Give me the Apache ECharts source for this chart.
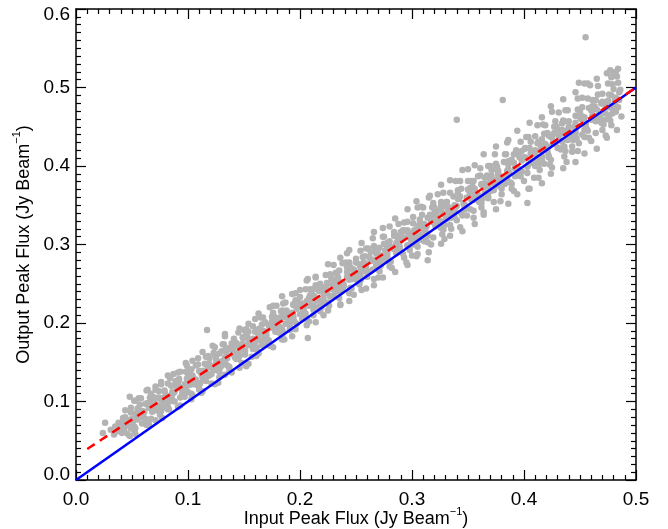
<!DOCTYPE html>
<html>
<head>
<meta charset="utf-8">
<script src="https://cdn.jsdelivr.net/npm/echarts@6/dist/echarts.min.js"></script>
<style>html,body{margin:0;padding:0;background:#fff}#c{width:668px;height:529px}</style>
</head>
<body>
<div id="c"></div>
<script>
// Axis ticks
const xTicks = [0.0, 0.1, 0.2, 0.3, 0.4, 0.5];
const yTicks = [0.0, 0.1, 0.2, 0.3, 0.4, 0.5, 0.6];

// One-to-one line (blue) and fitted line (red dashed)
const oneToOneX = [0.0, 0.5];
const oneToOneY = [0.0, 0.5];
const fitX = [0.01, 0.5];
const fitY = [0.0394, 0.5];

// Scatter: [input peak flux, output peak flux]
const fluxPoints = [
[0.024,0.060],[0.026,0.073],[0.031,0.064],[0.034,0.058],[0.035,0.068],[0.037,0.062],[0.038,0.073],[0.039,0.066],
[0.041,0.060],[0.041,0.071],[0.042,0.079],[0.043,0.065],[0.044,0.069],
[0.045,0.075],[0.046,0.059],[0.044,0.080],[0.047,0.070],[0.044,0.089],
[0.049,0.066],[0.046,0.076],[0.048,0.056],[0.049,0.086],
[0.050,0.072],[0.053,0.101],[0.050,0.078],[0.052,0.068],[0.049,0.092],[0.051,0.075],
[0.055,0.088],[0.053,0.066],[0.056,0.085],[0.053,0.059],[0.055,0.091],
[0.055,0.077],[0.057,0.096],[0.058,0.083],[0.056,0.104],[0.059,0.072],
[0.059,0.088],[0.061,0.078],[0.058,0.104],[0.060,0.082],
[0.064,0.098],[0.062,0.072],[0.065,0.095],[0.062,0.078],[0.064,0.115],[0.061,0.087],
[0.066,0.105],[0.067,0.078],[0.065,0.092],[0.068,0.100],[0.065,0.071],
[0.070,0.098],[0.067,0.110],[0.069,0.088],[0.070,0.094],[0.068,0.106],
[0.074,0.088],[0.071,0.119],[0.073,0.095],[0.070,0.105],
[0.075,0.083],[0.076,0.102],[0.074,0.113],[0.077,0.092],[0.074,0.105],[0.076,0.088],
[0.076,0.122],[0.078,0.097],[0.079,0.113],[0.077,0.079],[0.080,0.105],
[0.080,0.109],[0.082,0.093],[0.079,0.114],[0.081,0.104],[0.082,0.123],
[0.083,0.100],[0.086,0.110],[0.083,0.090],[0.085,0.120],
[0.085,0.106],[0.087,0.135],[0.088,0.112],[0.086,0.102],[0.089,0.126],[0.086,0.109],
[0.091,0.122],[0.088,0.100],[0.090,0.119],[0.091,0.093],[0.089,0.125],
[0.095,0.110],[0.092,0.129],[0.094,0.116],[0.091,0.137],[0.093,0.105],
[0.097,0.122],[0.095,0.112],[0.098,0.138],[0.095,0.116],
[0.100,0.132],[0.097,0.106],[0.099,0.129],[0.100,0.112],[0.098,0.149],[0.101,0.121],
[0.101,0.140],[0.103,0.110],[0.100,0.126],[0.102,0.134],[0.103,0.103],
[0.104,0.133],[0.107,0.146],[0.104,0.122],[0.106,0.128],[0.103,0.141],
[0.108,0.121],[0.109,0.155],[0.107,0.128],[0.110,0.139],
[0.110,0.115],[0.112,0.135],[0.109,0.147],[0.111,0.124],[0.112,0.139],[0.110,0.120],
[0.116,0.157],[0.113,0.131],[0.115,0.148],[0.112,0.111],[0.114,0.139],
[0.118,0.144],[0.116,0.126],[0.119,0.148],[0.116,0.138],[0.118,0.158],
[0.118,0.133],[0.120,0.144],[0.121,0.123],[0.119,0.155],
[0.125,0.140],[0.122,0.171],[0.124,0.146],[0.121,0.135],[0.123,0.162],[0.124,0.142],
[0.125,0.155],[0.128,0.131],[0.125,0.153],[0.127,0.124],[0.124,0.159],
[0.129,0.144],[0.130,0.164],[0.128,0.150],[0.131,0.173],[0.128,0.138],
[0.133,0.156],[0.130,0.146],[0.132,0.173],[0.133,0.149],
[0.134,0.167],[0.137,0.139],[0.134,0.163],[0.136,0.145],[0.133,0.186],[0.135,0.155],
[0.139,0.174],[0.137,0.144],[0.140,0.160],[0.137,0.168],[0.139,0.137],
[0.139,0.167],[0.141,0.180],[0.142,0.156],[0.140,0.162],[0.143,0.175],
[0.143,0.154],[0.145,0.188],[0.142,0.161],[0.144,0.172],
[0.148,0.149],[0.146,0.169],[0.149,0.181],[0.146,0.158],[0.148,0.173],[0.145,0.154],
[0.150,0.191],[0.151,0.165],[0.149,0.182],[0.152,0.145],[0.149,0.173],
[0.154,0.178],[0.151,0.160],[0.153,0.182],[0.154,0.172],[0.152,0.192],
[0.158,0.167],[0.155,0.178],[0.157,0.157],[0.154,0.189],
[0.159,0.174],[0.160,0.205],[0.158,0.180],[0.161,0.169],[0.158,0.196],[0.160,0.176],
[0.160,0.189],[0.162,0.165],[0.163,0.187],[0.161,0.158],[0.164,0.193],
[0.164,0.178],[0.166,0.198],[0.163,0.184],[0.165,0.207],[0.166,0.172],
[0.167,0.190],[0.170,0.180],[0.167,0.207],[0.169,0.183],
[0.169,0.201],[0.171,0.173],[0.172,0.197],[0.170,0.179],[0.173,0.220],[0.170,0.189],
[0.175,0.208],[0.172,0.178],[0.174,0.194],[0.175,0.202],[0.173,0.171],
[0.179,0.200],[0.176,0.213],[0.178,0.189],[0.175,0.195],[0.177,0.208],
[0.181,0.188],[0.179,0.222],[0.182,0.195],[0.179,0.206],
[0.184,0.183],[0.181,0.203],[0.183,0.215],[0.184,0.192],[0.182,0.207],[0.185,0.188],
[0.185,0.225],[0.187,0.199],[0.184,0.216],[0.186,0.179],[0.187,0.207],
[0.188,0.212],[0.191,0.194],[0.188,0.216],[0.190,0.206],[0.187,0.226],
[0.192,0.201],[0.193,0.212],[0.191,0.191],[0.194,0.223],
[0.194,0.207],[0.196,0.238],[0.193,0.213],[0.195,0.202],[0.196,0.229],[0.194,0.209],
[0.200,0.223],[0.197,0.199],[0.199,0.221],[0.196,0.192],[0.198,0.227],
[0.202,0.211],[0.200,0.233],[0.203,0.218],[0.200,0.242],[0.202,0.205],
[0.202,0.225],[0.204,0.213],[0.205,0.243],[0.203,0.217],
[0.209,0.235],[0.206,0.205],[0.208,0.232],[0.205,0.212],[0.207,0.256],[0.208,0.222],
[0.209,0.243],[0.212,0.210],[0.209,0.227],[0.211,0.236],[0.208,0.202],
[0.213,0.234],[0.214,0.248],[0.212,0.222],[0.215,0.229],[0.212,0.243],
[0.217,0.221],[0.214,0.258],[0.216,0.229],[0.217,0.241],
[0.218,0.215],[0.221,0.237],[0.218,0.250],[0.220,0.226],[0.217,0.241],[0.219,0.220],
[0.223,0.261],[0.221,0.232],[0.224,0.251],[0.221,0.210],[0.223,0.242],
[0.223,0.246],[0.225,0.226],[0.226,0.251],[0.224,0.239],[0.227,0.262],
[0.227,0.234],[0.229,0.245],[0.226,0.222],[0.228,0.257],
[0.232,0.240],[0.230,0.274],[0.233,0.247],[0.230,0.235],[0.232,0.264],[0.229,0.243],
[0.234,0.258],[0.235,0.232],[0.233,0.255],[0.236,0.224],[0.233,0.262],
[0.238,0.245],[0.235,0.267],[0.237,0.252],[0.238,0.276],[0.236,0.239],
[0.242,0.259],[0.239,0.247],[0.241,0.277],[0.238,0.251],
[0.243,0.268],[0.244,0.238],[0.242,0.265],[0.245,0.245],[0.242,0.289],[0.244,0.255],
[0.244,0.277],[0.246,0.244],[0.247,0.261],[0.245,0.270],[0.248,0.236],
[0.248,0.268],[0.250,0.282],[0.247,0.256],[0.249,0.263],[0.250,0.277],
[0.251,0.255],[0.254,0.292],[0.251,0.263],[0.253,0.275],
[0.253,0.249],[0.255,0.271],[0.256,0.284],[0.254,0.260],[0.257,0.275],[0.254,0.254],
[0.259,0.295],[0.256,0.266],[0.258,0.285],[0.259,0.244],[0.257,0.276],
[0.263,0.279],[0.260,0.259],[0.262,0.284],[0.259,0.272],[0.261,0.295],
[0.265,0.268],[0.263,0.279],[0.266,0.256],[0.263,0.291],
[0.268,0.274],[0.265,0.308],[0.267,0.281],[0.268,0.269],[0.266,0.298],[0.269,0.277],
[0.269,0.292],[0.271,0.266],[0.268,0.289],[0.270,0.258],[0.271,0.296],
[0.272,0.279],[0.275,0.301],[0.272,0.286],[0.274,0.310],[0.271,0.273],
[0.276,0.292],[0.277,0.280],[0.275,0.310],[0.278,0.284],
[0.278,0.302],[0.280,0.272],[0.277,0.299],[0.279,0.279],[0.280,0.323],[0.278,0.289],
[0.284,0.311],[0.281,0.278],[0.283,0.295],[0.280,0.304],[0.282,0.270],
[0.286,0.302],[0.284,0.316],[0.287,0.290],[0.284,0.297],[0.286,0.311],
[0.286,0.289],[0.288,0.326],[0.289,0.297],[0.287,0.309],
[0.293,0.283],[0.290,0.305],[0.292,0.318],[0.289,0.294],[0.291,0.309],[0.292,0.288],
[0.293,0.328],[0.296,0.299],[0.293,0.318],[0.295,0.277],[0.292,0.309],
[0.297,0.313],[0.298,0.293],[0.296,0.318],[0.299,0.306],[0.296,0.329],
[0.301,0.300],[0.298,0.314],[0.300,0.286],[0.301,0.327],
[0.302,0.307],[0.305,0.347],[0.302,0.315],[0.304,0.301],[0.301,0.335],[0.303,0.310],
[0.307,0.327],[0.305,0.297],[0.308,0.324],[0.305,0.288],[0.307,0.332],
[0.307,0.312],[0.309,0.338],[0.310,0.319],[0.308,0.348],[0.311,0.304],
[0.311,0.326],[0.313,0.312],[0.310,0.347],[0.312,0.317],
[0.316,0.338],[0.314,0.303],[0.317,0.334],[0.314,0.311],[0.316,0.362],[0.313,0.323],
[0.318,0.347],[0.319,0.309],[0.317,0.329],[0.320,0.340],[0.317,0.300],
[0.322,0.337],[0.319,0.353],[0.321,0.323],[0.322,0.330],[0.320,0.347],
[0.326,0.321],[0.323,0.364],[0.325,0.330],[0.322,0.344],
[0.327,0.313],[0.328,0.339],[0.326,0.354],[0.329,0.325],[0.326,0.343],[0.328,0.319],
[0.328,0.366],[0.330,0.332],[0.331,0.354],[0.329,0.307],[0.332,0.343],
[0.332,0.348],[0.334,0.325],[0.331,0.354],[0.333,0.340],[0.334,0.366],
[0.335,0.334],[0.338,0.348],[0.335,0.320],[0.337,0.361],
[0.337,0.341],[0.339,0.381],[0.340,0.349],[0.338,0.335],[0.341,0.369],[0.338,0.344],
[0.343,0.361],[0.340,0.331],[0.342,0.358],[0.343,0.322],[0.341,0.366],
[0.347,0.345],[0.344,0.371],[0.346,0.352],[0.343,0.381],[0.345,0.337],
[0.349,0.360],[0.347,0.346],[0.350,0.381],[0.347,0.351],
[0.352,0.372],[0.349,0.337],[0.351,0.368],[0.352,0.345],[0.350,0.396],[0.353,0.357],
[0.353,0.381],[0.355,0.343],[0.352,0.363],[0.354,0.374],[0.355,0.334],
[0.356,0.371],[0.359,0.387],[0.356,0.357],[0.358,0.364],[0.355,0.381],
[0.360,0.354],[0.361,0.397],[0.359,0.363],[0.362,0.377],
[0.362,0.347],[0.364,0.373],[0.361,0.388],[0.363,0.359],[0.364,0.377],[0.362,0.353],
[0.368,0.400],[0.365,0.366],[0.367,0.388],[0.364,0.341],[0.366,0.377],
[0.370,0.382],[0.368,0.359],[0.371,0.388],[0.368,0.374],[0.370,0.400],
[0.370,0.368],[0.372,0.382],[0.373,0.354],[0.371,0.395],
[0.377,0.375],[0.374,0.415],[0.376,0.383],[0.373,0.369],[0.375,0.403],[0.376,0.378],
[0.377,0.394],[0.380,0.364],[0.377,0.391],[0.379,0.355],[0.376,0.399],
[0.381,0.379],[0.382,0.405],[0.380,0.386],[0.383,0.415],[0.380,0.371],
[0.385,0.394],[0.382,0.380],[0.384,0.415],[0.385,0.385],
[0.386,0.406],[0.389,0.371],[0.386,0.402],[0.388,0.379],[0.385,0.430],[0.387,0.391],
[0.391,0.415],[0.389,0.377],[0.392,0.397],[0.389,0.408],[0.391,0.368],
[0.391,0.404],[0.393,0.420],[0.394,0.390],[0.392,0.397],[0.395,0.414],
[0.395,0.388],[0.397,0.431],[0.394,0.397],[0.396,0.411],
[0.400,0.381],[0.398,0.407],[0.401,0.422],[0.398,0.393],[0.400,0.411],[0.397,0.387],
[0.402,0.437],[0.403,0.399],[0.401,0.423],[0.404,0.371],[0.401,0.411],
[0.406,0.416],[0.403,0.391],[0.405,0.423],[0.406,0.408],[0.404,0.437],
[0.410,0.400],[0.407,0.416],[0.409,0.385],[0.406,0.431],
[0.411,0.407],[0.412,0.452],[0.410,0.416],[0.413,0.401],[0.410,0.438],[0.412,0.411],
[0.412,0.429],[0.414,0.395],[0.415,0.426],[0.413,0.385],[0.416,0.434],
[0.416,0.412],[0.418,0.441],[0.415,0.420],[0.417,0.453],[0.418,0.403],
[0.419,0.428],[0.422,0.413],[0.419,0.452],[0.421,0.418],
[0.421,0.442],[0.423,0.402],[0.424,0.437],[0.422,0.411],[0.425,0.469],[0.422,0.425],
[0.427,0.450],[0.424,0.408],[0.426,0.430],[0.427,0.442],[0.425,0.398],
[0.431,0.438],[0.428,0.457],[0.430,0.423],[0.427,0.431],[0.429,0.450],
[0.433,0.421],[0.431,0.468],[0.434,0.431],[0.431,0.446],
[0.436,0.412],[0.433,0.441],[0.435,0.458],[0.436,0.425],[0.434,0.446],[0.437,0.419],
[0.437,0.471],[0.439,0.433],[0.436,0.457],[0.438,0.405],[0.439,0.445],
[0.440,0.450],[0.443,0.425],[0.440,0.457],[0.442,0.442],[0.439,0.471],
[0.444,0.433],[0.445,0.449],[0.443,0.418],[0.446,0.464],
[0.446,0.441],[0.448,0.486],[0.445,0.450],[0.447,0.435],[0.448,0.472],[0.446,0.445],
[0.452,0.463],[0.449,0.429],[0.451,0.460],[0.448,0.419],[0.450,0.468],
[0.454,0.446],[0.452,0.475],[0.455,0.454],[0.452,0.487],[0.454,0.437],
[0.454,0.462],[0.456,0.447],[0.457,0.486],[0.455,0.452],
[0.461,0.476],[0.458,0.436],[0.460,0.471],[0.457,0.445],[0.459,0.503],[0.460,0.459],
[0.461,0.484],[0.464,0.442],[0.461,0.464],[0.463,0.476],[0.460,0.432],
[0.465,0.472],[0.466,0.491],[0.464,0.457],[0.467,0.465],[0.464,0.484],
[0.469,0.455],[0.466,0.502],[0.468,0.465],[0.469,0.480],
[0.470,0.446],[0.473,0.475],[0.470,0.492],[0.472,0.459],[0.469,0.480],[0.471,0.453],
[0.475,0.505],[0.473,0.467],[0.476,0.491],[0.473,0.439],[0.475,0.479],
[0.475,0.483],[0.477,0.458],[0.478,0.490],[0.476,0.475],[0.479,0.504],
[0.479,0.467],[0.481,0.483],[0.478,0.452],[0.480,0.498],
[0.484,0.475],[0.482,0.520],[0.485,0.484],[0.482,0.469],[0.484,0.506],[0.481,0.479],
[0.486,0.497],[0.487,0.463],[0.485,0.494]
];

// Isolated points and the upper/lower fringe of the cloud
const fluxOutliers = [
[0.455,0.564],[0.340,0.459],[0.381,0.484],[0.117,0.191],[0.207,0.181],[0.314,0.280],[0.403,0.353],
[0.449,0.506],[0.457,0.505],[0.481,0.518],[0.484,0.524],[0.478,0.513],[0.477,0.522],[0.480,0.516],
[0.099,0.146],[0.048,0.106],[0.076,0.125],[0.084,0.130]
];
const fluxEdge = [
[0.052,0.101],[0.052,0.063],[0.063,0.114],[0.063,0.070],[0.071,0.076],[0.071,0.115],
[0.082,0.133],[0.082,0.090],[0.093,0.095],[0.093,0.138],[0.104,0.152],[0.104,0.108],
[0.113,0.113],[0.113,0.163],[0.124,0.169],[0.124,0.122],[0.133,0.134],[0.133,0.183],
[0.146,0.193],[0.146,0.143],[0.154,0.148],[0.154,0.199],[0.163,0.212],[0.163,0.161],
[0.176,0.169],[0.176,0.222],[0.184,0.234],[0.184,0.179],[0.193,0.183],[0.193,0.237],
[0.206,0.254],[0.206,0.197],[0.214,0.201],[0.214,0.259],[0.225,0.275],[0.225,0.216],
[0.236,0.223],[0.236,0.283],[0.244,0.293],[0.244,0.228],[0.255,0.242],[0.255,0.302],
[0.266,0.316],[0.266,0.248],[0.274,0.258],[0.274,0.321],[0.285,0.333],[0.285,0.265],
[0.296,0.274],[0.296,0.345],[0.304,0.355],[0.304,0.285],[0.315,0.290],[0.315,0.360],
[0.326,0.376],[0.326,0.301],[0.334,0.311],[0.334,0.382],[0.345,0.395],[0.345,0.317],
[0.356,0.326],[0.356,0.401],[0.364,0.415],[0.364,0.338],[0.375,0.345],[0.375,0.425],
[0.386,0.433],[0.386,0.352],[0.394,0.364],[0.394,0.445],[0.405,0.455],[0.405,0.371],
[0.416,0.378],[0.416,0.462],[0.424,0.476],[0.424,0.390],[0.435,0.397],[0.435,0.485],
[0.446,0.494],[0.446,0.405],[0.454,0.416],[0.454,0.505],[0.465,0.511],[0.465,0.422],
[0.474,0.436],[0.474,0.518],[0.483,0.514],[0.483,0.446]
];
const fluxCoreA = [
[0.053,0.084],[0.059,0.081],[0.065,0.098],[0.071,0.094],[0.077,0.104],[0.083,0.100],
[0.089,0.120],[0.095,0.117],[0.101,0.134],[0.107,0.125],[0.113,0.139],[0.119,0.133],
[0.125,0.153],[0.131,0.152],[0.137,0.167],[0.143,0.157],[0.149,0.172],[0.155,0.172],
[0.161,0.191],[0.167,0.179],[0.173,0.197],[0.179,0.196],[0.185,0.211],[0.191,0.200],
[0.197,0.218],[0.203,0.216],[0.209,0.235],[0.215,0.229],[0.221,0.244],[0.227,0.234],
[0.233,0.250],[0.239,0.249],[0.245,0.271],[0.251,0.264],[0.257,0.277],[0.263,0.266],
[0.269,0.291],[0.275,0.285],[0.281,0.297],[0.287,0.292],[0.293,0.317],[0.299,0.310],
[0.305,0.323],[0.311,0.310],[0.317,0.332],[0.323,0.328],[0.329,0.349],[0.335,0.342],
[0.341,0.358],[0.347,0.346],[0.353,0.364],[0.359,0.361],[0.365,0.385],[0.371,0.378],
[0.377,0.389],[0.383,0.377],[0.389,0.405],[0.395,0.396],[0.401,0.410],[0.407,0.404],
[0.413,0.431],[0.419,0.422],[0.425,0.437],[0.431,0.423],[0.437,0.445],[0.443,0.440],
[0.449,0.463],[0.455,0.455],[0.461,0.471],[0.467,0.459],[0.473,0.477],[0.479,0.473]
];
const fluxCoreB = [
[0.056,0.081],[0.062,0.097],[0.068,0.087],[0.074,0.104],[0.080,0.095],[0.086,0.112],
[0.092,0.127],[0.098,0.115],[0.104,0.131],[0.110,0.122],[0.116,0.147],[0.122,0.141],
[0.128,0.161],[0.134,0.147],[0.140,0.167],[0.146,0.165],[0.152,0.185],[0.158,0.168],
[0.164,0.187],[0.170,0.184],[0.176,0.205],[0.182,0.192],[0.188,0.208],[0.194,0.224],
[0.200,0.211],[0.206,0.228],[0.212,0.217],[0.218,0.245],[0.224,0.239],[0.230,0.252],
[0.236,0.241],[0.242,0.271],[0.248,0.258],[0.254,0.271],[0.260,0.265],[0.266,0.291],
[0.272,0.273],[0.278,0.297],[0.284,0.294],[0.290,0.316],[0.296,0.298],[0.302,0.318],
[0.308,0.306],[0.314,0.334],[0.320,0.327],[0.326,0.350],[0.332,0.333],[0.338,0.350],
[0.344,0.340],[0.350,0.370],[0.356,0.362],[0.362,0.376],[0.368,0.361],[0.374,0.396],
[0.380,0.381],[0.386,0.396],[0.392,0.387],[0.398,0.419],[0.404,0.402],[0.410,0.420],
[0.416,0.407],[0.422,0.439],[0.428,0.428],[0.434,0.454],[0.440,0.434],[0.446,0.455],
[0.452,0.440],[0.458,0.474],[0.464,0.461],[0.470,0.482],[0.476,0.464],[0.482,0.487]
];

const FONT = '"Liberation Sans", Arial, Helvetica, sans-serif';
const chart = echarts.init(document.getElementById('c'), null, {renderer: 'canvas'});

const lineStyleAxis = {color: '#000', width: 1.5};
function axisBase(extra) {
  return Object.assign({
    type: 'value',
    splitLine: {show: false},
    axisLine: {show: true, onZero: false, lineStyle: lineStyleAxis},
    axisTick: {show: true, inside: true, length: 10, lineStyle: {color: '#000', width: 1.2}},
    minorTick: {show: true, splitNumber: 10, length: 5, lineStyle: {color: '#000', width: 1.2}},
    minorSplitLine: {show: false}
  }, extra);
}
const fmt = v => v.toFixed(1);
const titleRich = {
  a: {fontSize: 18, fontFamily: FONT, color: '#000', lineHeight: 22, verticalAlign: 'bottom'},
  s: {fontSize: 11, fontFamily: FONT, color: '#000', lineHeight: 22, verticalAlign: 'top', padding: [0, 0, 6, 0]}
};
const yMin = yTicks[0], yMax = yTicks[yTicks.length - 1];

chart.setOption({
  animation: false,
  backgroundColor: '#fff',
  grid: {left: 76, right: 32, top: 9, bottom: 49, containLabel: false, outerBoundsMode: 'none'},
  xAxis: [
    axisBase({
      min: xTicks[0], max: xTicks[xTicks.length - 1], interval: 0.1, position: 'bottom',
      axisLabel: {show: true, margin: 10, color: '#000', fontSize: 19, fontFamily: FONT, formatter: fmt},
      name: '{a|Input Peak Flux (Jy Beam}{s|−1}{a|)}',
      nameLocation: 'middle', nameGap: 26, nameMoveOverlap: false,
      nameTextStyle: {color: '#000', fontFamily: FONT, fontSize: 18, rich: titleRich}
    }),
    axisBase({
      min: xTicks[0], max: xTicks[xTicks.length - 1], interval: 0.1, position: 'top',
      axisLabel: {show: false}
    })
  ],
  yAxis: [
    axisBase({
      min: yMin, max: yMax, interval: 0.1, position: 'left',
      axisLabel: {
        show: true, margin: 6, color: '#000', fontSize: 19, fontFamily: FONT,
        formatter: v => v === yMin ? '{lo|' + fmt(v) + '}' : (Math.abs(v - yMax) < 1e-9 ? '{hi|' + fmt(v) + '}' : '{m|' + fmt(v) + '}'),
        rich: {
          m: {fontSize: 19, fontFamily: FONT, color: '#000', lineHeight: 19},
          lo: {fontSize: 19, fontFamily: FONT, color: '#000', lineHeight: 19, padding: [0, 0, 10, 0]},
          hi: {fontSize: 19, fontFamily: FONT, color: '#000', lineHeight: 19, padding: [12, 0, 0, 0]}
        }
      },
      name: '{a|Output Peak Flux (Jy Beam}{s|−1}{a|)}',
      nameLocation: 'middle', nameGap: 43, nameMoveOverlap: false,
      nameTextStyle: {color: '#000', fontFamily: FONT, fontSize: 18, rich: titleRich}
    }),
    axisBase({
      min: yMin, max: yMax, interval: 0.1, position: 'right',
      axisLabel: {show: false}
    })
  ],
  series: [
    {
      type: 'scatter', xAxisIndex: 0, yAxisIndex: 0,
      data: fluxPoints.concat(fluxEdge, fluxCoreA, fluxCoreB, fluxOutliers),
      symbol: 'circle', symbolSize: 6.5,
      itemStyle: {color: '#b3b3b3', opacity: 1},
      silent: true, z: 2, large: false
    },
    {
      type: 'line', xAxisIndex: 0, yAxisIndex: 0,
      data: oneToOneX.map((x, i) => [x, oneToOneY[i]]),
      symbol: 'none', lineStyle: {color: '#0000ff', width: 2.5, type: 'solid'},
      silent: true, z: 3
    },
    {
      type: 'line', xAxisIndex: 0, yAxisIndex: 0,
      data: fitX.map((x, i) => [x, fitY[i]]),
      symbol: 'none', lineStyle: {color: '#ff0000', width: 2.5, type: [9, 6]},
      silent: true, z: 4
    }
  ]
});
</script>
</body>
</html>
